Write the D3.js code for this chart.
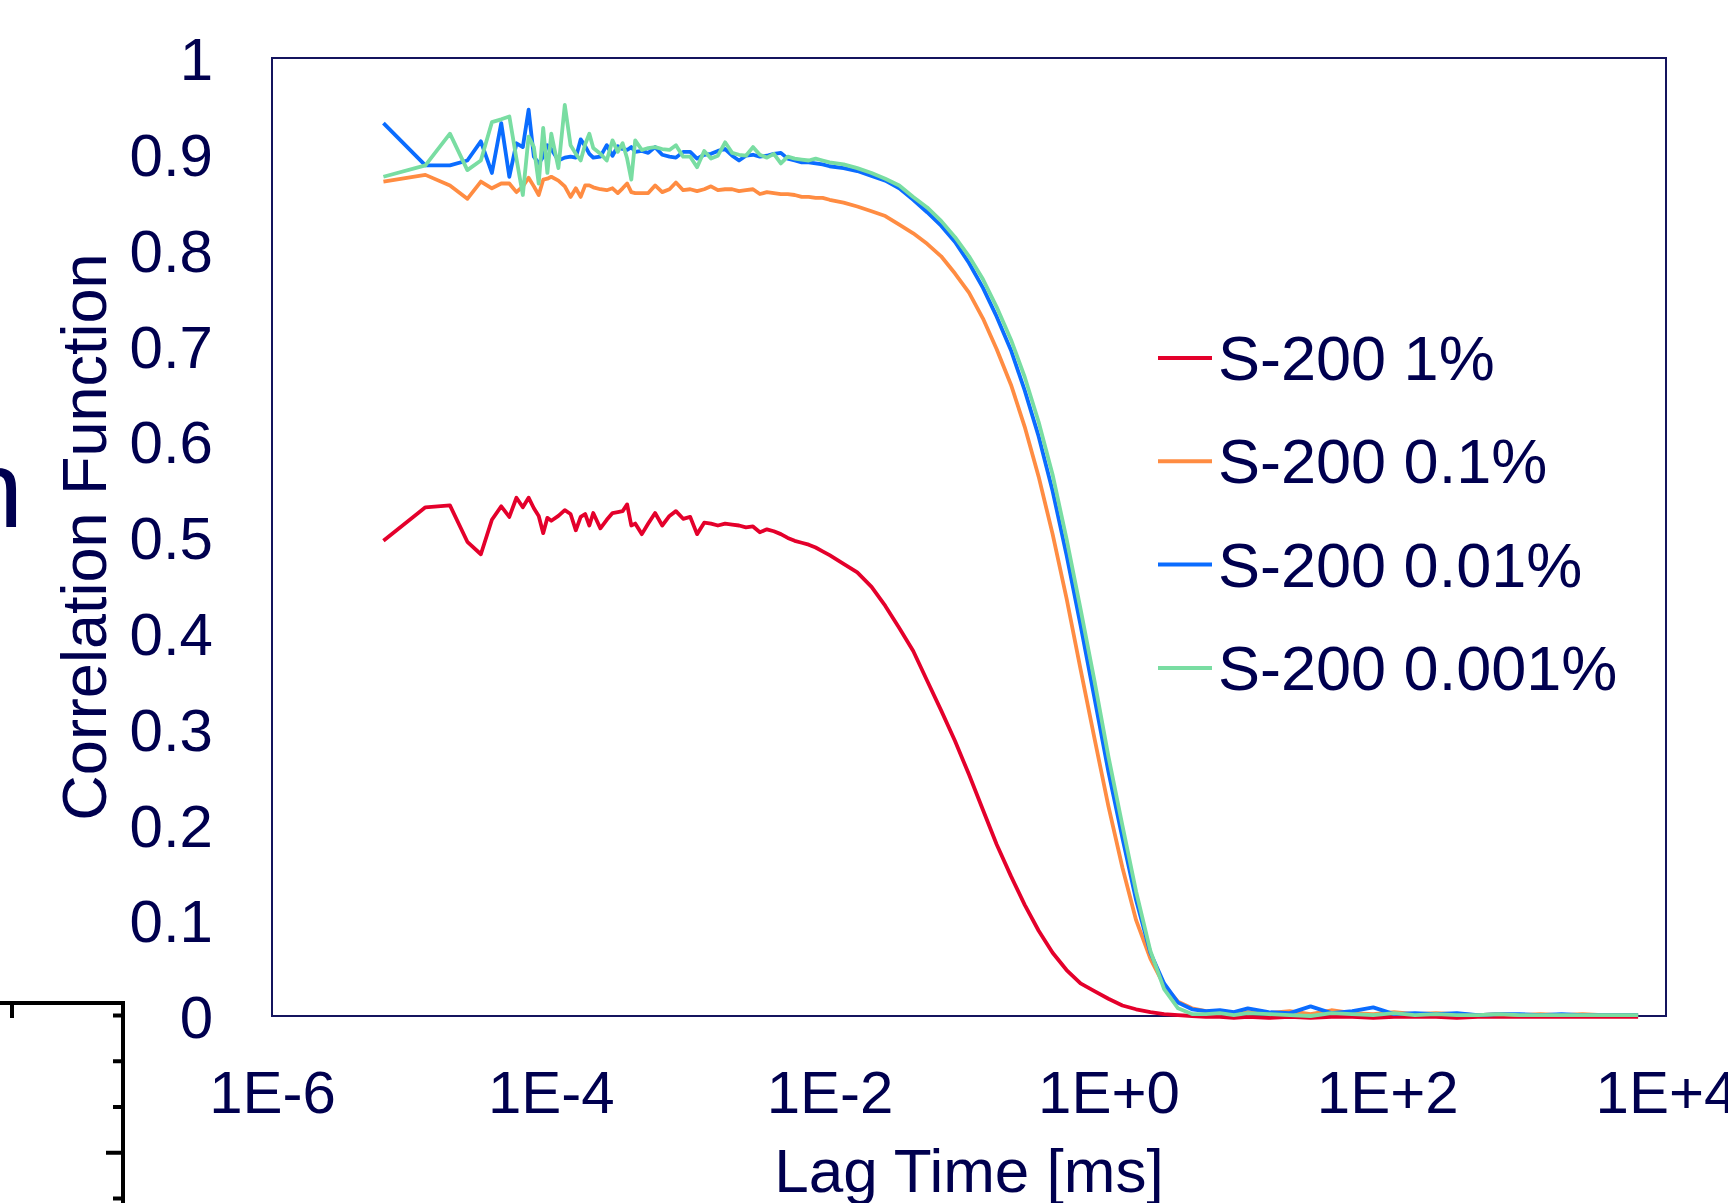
<!DOCTYPE html>
<html>
<head>
<meta charset="utf-8">
<script src="https://cdn.jsdelivr.net/npm/d3@7"></script>
<style>
  body { margin: 0; background: white; }
  text { font-family: "Liberation Sans", Arial, sans-serif; fill: #00004f; }
</style>
</head>
<body>
<div id="container"></div>
<script>
// lag time in ms, shared by all four measurements
const lagTime = [6.3e-6, 1.26e-5, 1.89e-5, 2.52e-5, 3.15e-5, 3.78e-5, 4.41e-5, 5.04e-5, 5.67e-5, 6.3e-5,
  6.93e-5, 7.56e-5, 8.19e-5, 8.82e-5, 9.45e-5, 1.008e-4, 1.134e-4, 1.26e-4, 1.386e-4, 1.512e-4,
  1.638e-4, 1.764e-4, 1.89e-4, 2.016e-4, 2.268e-4, 2.52e-4, 2.772e-4, 3.024e-4, 3.276e-4, 3.528e-4,
  3.78e-4, 4.032e-4, 4.5e-4, 5.0e-4, 5.6e-4, 6.3e-4, 7.1e-4, 7.9e-4, 8.9e-4, 1.0e-3,
  1.12e-3, 1.26e-3, 1.41e-3, 1.58e-3, 1.78e-3, 2.0e-3, 2.24e-3, 2.51e-3, 2.82e-3, 3.16e-3,
  3.55e-3, 3.98e-3, 4.47e-3, 5.01e-3, 5.62e-3, 6.31e-3, 7.08e-3, 7.94e-3, 8.91e-3, 1.0e-2,
  1.26e-2, 1.58e-2, 2.0e-2, 2.51e-2, 3.16e-2, 3.98e-2, 5.01e-2, 6.31e-2, 7.94e-2, 0.1,
  0.126, 0.158, 0.2, 0.251, 0.316, 0.398, 0.501, 0.631, 0.794, 1.0,
  1.26, 1.58, 2.0, 2.51, 3.16, 3.98, 5.01, 6.31, 7.94, 10,
  14.1, 20, 28.2, 39.8, 56.2, 79.4, 112, 158, 224, 316,
  447, 631, 891, 1260, 1780, 2510, 3550, 5010, 6310]

const s200_1 = [0.496, 0.531, 0.533, 0.495, 0.482, 0.518, 0.532, 0.521, 0.541, 0.531,
  0.541, 0.530, 0.522, 0.504, 0.520, 0.517, 0.522, 0.528, 0.524, 0.507,
  0.521, 0.524, 0.512, 0.525, 0.509, 0.518, 0.525, 0.526, 0.527, 0.534,
  0.512, 0.514, 0.503, 0.514, 0.525, 0.512, 0.522, 0.527, 0.519, 0.521,
  0.503, 0.515, 0.514, 0.512, 0.514, 0.513, 0.512, 0.510, 0.511, 0.505,
  0.508, 0.506, 0.503, 0.499, 0.496, 0.494, 0.492, 0.489, 0.485, 0.481,
  0.472, 0.463, 0.448, 0.428, 0.405, 0.381, 0.350, 0.319, 0.287, 0.252,
  0.215, 0.179, 0.146, 0.116, 0.089, 0.066, 0.048, 0.034, 0.026, 0.018,
  0.011, 0.007, 0.004, 0.002, 0.001, 0.000, -0.001, -0.001, -0.002, -0.001,
  -0.002, -0.001, -0.002, -0.001, -0.001, -0.002, -0.001, -0.001, -0.001, -0.002,
  -0.001, -0.001, -0.001, -0.001, -0.001, -0.001, -0.001, -0.001, -0.001]

const s200_01 = [0.871, 0.878, 0.867, 0.853, 0.871, 0.864, 0.869, 0.869, 0.860, 0.866,
  0.875, 0.866, 0.857, 0.873, 0.874, 0.876, 0.872, 0.866, 0.855, 0.864,
  0.855, 0.867, 0.867, 0.865, 0.863, 0.862, 0.864, 0.859, 0.864, 0.869,
  0.860, 0.859, 0.859, 0.859, 0.867, 0.860, 0.863, 0.870, 0.862, 0.863,
  0.861, 0.863, 0.866, 0.862, 0.863, 0.863, 0.861, 0.862, 0.863, 0.858,
  0.860, 0.859, 0.858, 0.858, 0.857, 0.855, 0.855, 0.854, 0.854, 0.852,
  0.849, 0.845, 0.840, 0.835, 0.826, 0.817, 0.806, 0.793, 0.775, 0.755,
  0.728, 0.696, 0.659, 0.615, 0.563, 0.503, 0.436, 0.362, 0.290, 0.219,
  0.155, 0.100, 0.060, 0.032, 0.015, 0.008, 0.005, 0.004, 0.003, 0.004,
  0.003, 0.005, 0.002, 0.006, 0.003, 0.002, 0.004, 0.002, 0.003, 0.002,
  0.001, 0.002, 0.001, 0.002, 0.001, 0.002, 0.001, 0.001, 0.001]

const s200_001 = [0.932, 0.888, 0.888, 0.893, 0.913, 0.880, 0.932, 0.876, 0.911, 0.907,
  0.946, 0.897, 0.890, 0.897, 0.909, 0.905, 0.893, 0.896, 0.897, 0.896,
  0.915, 0.908, 0.900, 0.896, 0.897, 0.909, 0.898, 0.908, 0.905, 0.904,
  0.907, 0.902, 0.903, 0.901, 0.907, 0.899, 0.897, 0.896, 0.902, 0.902,
  0.895, 0.899, 0.900, 0.903, 0.905, 0.898, 0.893, 0.898, 0.899, 0.897,
  0.898, 0.900, 0.901, 0.895, 0.893, 0.891, 0.891, 0.890, 0.889, 0.887,
  0.885, 0.882, 0.877, 0.872, 0.864, 0.852, 0.839, 0.825, 0.808, 0.786,
  0.760, 0.730, 0.695, 0.653, 0.605, 0.548, 0.481, 0.408, 0.332, 0.255,
  0.186, 0.121, 0.066, 0.034, 0.014, 0.007, 0.005, 0.006, 0.004, 0.008,
  0.004, 0.003, 0.010, 0.003, 0.005, 0.009, 0.002, 0.003, 0.002, 0.003,
  0.001, 0.002, 0.002, 0.001, 0.002, 0.001, 0.001, 0.001, 0.001]

const s200_0001 = [0.876, 0.888, 0.921, 0.883, 0.893, 0.933, 0.936, 0.939, 0.895, 0.857,
  0.918, 0.907, 0.869, 0.927, 0.880, 0.921, 0.885, 0.951, 0.909, 0.900,
  0.893, 0.910, 0.921, 0.906, 0.900, 0.893, 0.914, 0.902, 0.911, 0.895,
  0.873, 0.914, 0.904, 0.906, 0.907, 0.905, 0.904, 0.909, 0.897, 0.897,
  0.886, 0.903, 0.895, 0.898, 0.912, 0.901, 0.899, 0.898, 0.907, 0.899,
  0.896, 0.900, 0.890, 0.897, 0.895, 0.894, 0.893, 0.895, 0.893, 0.891,
  0.889, 0.885, 0.880, 0.874, 0.867, 0.855, 0.844, 0.830, 0.813, 0.793,
  0.769, 0.740, 0.706, 0.667, 0.620, 0.565, 0.498, 0.425, 0.350, 0.271,
  0.199, 0.130, 0.068, 0.028, 0.008, 0.002, 0.002, 0.003, 0.001, 0.003,
  0.002, 0.001, 0.000, 0.003, 0.002, 0.001, 0.003, 0.001, 0.002, 0.001,
  0.001, 0.002, 0.001, 0.001, 0.001, 0.001, 0.001, 0.001, 0.001]

const seriesNames = ['S-200 1%', 'S-200 0.1%', 'S-200 0.01%', 'S-200 0.001%']
const seriesValues = [s200_1, s200_01, s200_001, s200_0001]
const seriesColors = ['#e4002b', '#ff8c42', '#0a6cff', '#79dda2']

const xTickValues = [1e-6, 1e-4, 1e-2, 1, 1e2, 1e4]
const xTickLabels = ['1E-6', '1E-4', '1E-2', '1E+0', '1E+2', '1E+4']
const yTickValues = [0, 0.1, 0.2, 0.3, 0.4, 0.5, 0.6, 0.7, 0.8, 0.9, 1]

const w = 1728
const h = 1203
const box = { left: 272, right: 1666, top: 58, bottom: 1016 }
const navy = '#00004f'

const svg = d3.select('#container')
  .append('svg')
    .attr('width', w)
    .attr('height', h)
    .style('display', 'block')
    .style('background', 'white')

const scaleX = d3.scaleLog()
  .domain([1e-6, 1e4])
  .range([box.left, box.right])

const scaleY = d3.scaleLinear()
  .domain([0, 1])
  .range([box.bottom, box.top])

// leftover pieces of the neighbouring figure
svg.append('text')
  .attr('x', -38)
  .attr('y', 527)
  .style('font-size', '110px')
  .text('n')

const fragY = d3.scaleLinear().domain([0, 4]).range([1015, 1198])
const frag = svg.append('g')
  .attr('transform', 'translate(123, 0)')
  .call(d3.axisLeft(fragY).tickValues([0, 1, 2, 3, 4]).tickFormat(''))
frag.select('.domain').remove()
frag.selectAll('.tick line')
  .attr('x2', (d) => d === 3 ? -17 : -10)
  .attr('stroke', 'black')
  .attr('stroke-width', 4)

svg.append('path')
  .attr('d', 'M-5,1003 H123 V1215 M12,1003 V1018')
  .attr('fill', 'none')
  .attr('stroke', 'black')
  .attr('stroke-width', 4)

// plot frame
svg.append('rect')
  .attr('x', box.left)
  .attr('y', box.top)
  .attr('width', box.right - box.left)
  .attr('height', box.bottom - box.top)
  .attr('fill', 'none')
  .attr('stroke', '#14145e')
  .attr('stroke-width', 2)

const axisX = d3.axisBottom(scaleX)
  .tickValues(xTickValues)
  .tickFormat((d, i) => xTickLabels[i])
  .tickSize(0)
  .tickPadding(54)

const axisY = d3.axisLeft(scaleY)
  .tickValues(yTickValues)
  .tickFormat((d) => d === 0 || d === 1 ? String(d) : d.toFixed(1))
  .tickSize(0)
  .tickPadding(59)

const gx = svg.append('g')
  .attr('id', 'x-axis')
  .attr('transform', `translate(0, ${box.bottom})`)
  .call(axisX)

const gy = svg.append('g')
  .attr('id', 'y-axis')
  .attr('transform', `translate(${box.left}, 0)`)
  .call(axisY)

gx.select('.domain').remove()
gy.select('.domain').remove()
gx.selectAll('text').style('font-size', '60px').attr('fill', navy)
gy.selectAll('text').style('font-size', '60px').attr('fill', navy).attr('dy', '0.36em')

svg.append('text')
  .attr('x', (box.left + box.right) / 2)
  .attr('y', 1192)
  .attr('text-anchor', 'middle')
  .style('font-size', '62px')
  .text('Lag Time [ms]')

svg.append('text')
  .attr('transform', `translate(106, ${(box.top + box.bottom) / 2}) rotate(-90)`)
  .attr('text-anchor', 'middle')
  .style('font-size', '63px')
  .text('Correlation Function')

// curves
const line = d3.line()
  .x((d) => scaleX(d[0]))
  .y((d) => scaleY(d[1]))

seriesValues.forEach((vals, i) => {
  svg.append('path')
    .datum(lagTime.map((t, j) => [t, vals[j]]))
    .attr('fill', 'none')
    .attr('stroke', seriesColors[i])
    .attr('stroke-width', 3.8)
    .attr('stroke-linejoin', 'round')
    .attr('d', line)
})

// legend
const legend = svg.append('g')
  .attr('transform', 'translate(1158, 358)')

seriesNames.forEach((name, i) => {
  const row = legend.append('g')
    .attr('transform', `translate(0, ${i * 103.3})`)
  row.append('line')
    .attr('x1', 0)
    .attr('x2', 54)
    .attr('stroke', seriesColors[i])
    .attr('stroke-width', 4)
  row.append('text')
    .attr('x', 60)
    .attr('y', 22)
    .style('font-size', '63px')
    .text(name)
})
</script>
</body>
</html>
